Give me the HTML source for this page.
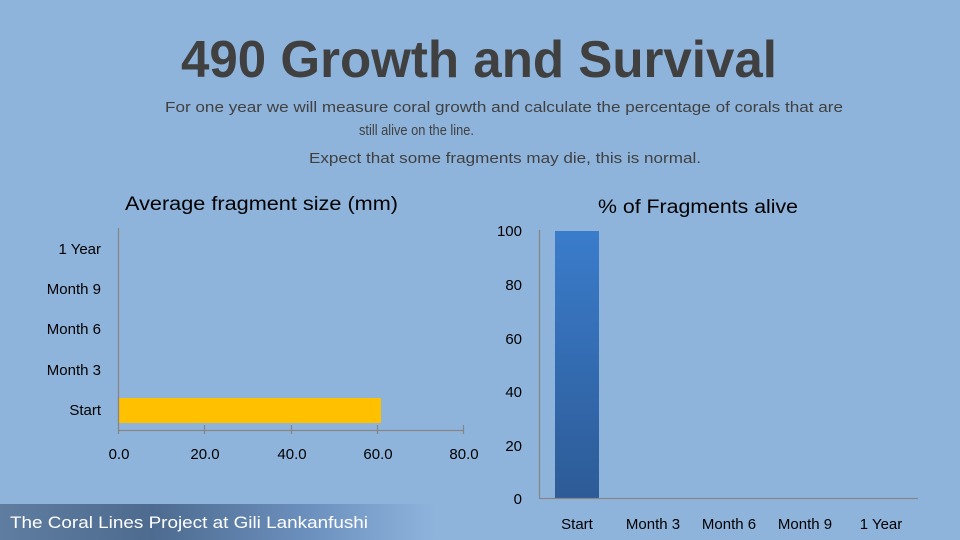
<!DOCTYPE html>
<html><head><meta charset="utf-8"><style>
html,body{margin:0;padding:0;width:960px;height:540px;overflow:hidden;background:#8fb4dc}
svg{display:block}
text{font-family:"Liberation Sans",sans-serif}
</style></head><body>
<svg width="960" height="540" viewBox="0 0 960 540" xmlns="http://www.w3.org/2000/svg">
<defs>
<linearGradient id="bar" x1="0" y1="0" x2="0" y2="1"><stop offset="0" stop-color="#3a7ccb"/><stop offset="1" stop-color="#2d5b97"/></linearGradient>
<linearGradient id="foot" x1="0" y1="0" x2="1" y2="0"><stop offset="0" stop-color="#5f7da0"/><stop offset="0.35" stop-color="#4d6b8f"/><stop offset="0.7" stop-color="#6b8fbd"/><stop offset="1" stop-color="#8fb4dc"/></linearGradient>
</defs>
<rect width="960" height="540" fill="#8fb4dc"/>
<text x="181" y="77" font-size="52" font-weight="bold" fill="#404040" textLength="596" lengthAdjust="spacingAndGlyphs">490 Growth and Survival</text>
<g fill="#404040" font-size="15">
<text x="165" y="112" textLength="678" lengthAdjust="spacingAndGlyphs">For one year we will measure coral growth and calculate the percentage of corals that are</text>
<text x="359" y="135" textLength="115" lengthAdjust="spacingAndGlyphs">still alive on the line.</text>
<text x="309" y="163" textLength="392" lengthAdjust="spacingAndGlyphs">Expect that some fragments may die, this is normal.</text>
</g>
<text x="125" y="210" font-size="19" fill="#000" textLength="273" lengthAdjust="spacingAndGlyphs">Average fragment size (mm)</text>
<text x="598" y="213" font-size="19" fill="#000" textLength="200" lengthAdjust="spacingAndGlyphs">% of Fragments alive</text>
<!-- left chart -->
<rect x="119" y="398" width="262" height="25" fill="#ffc000"/>
<g stroke="#868686" stroke-width="1.3">
<line x1="118.5" y1="228" x2="118.5" y2="434"/>
<line x1="118" y1="430.5" x2="463" y2="430.5"/>
<line x1="204.5" y1="425" x2="204.5" y2="434"/>
<line x1="291.5" y1="425" x2="291.5" y2="434"/>
<line x1="377.5" y1="425" x2="377.5" y2="434"/>
<line x1="463.5" y1="425" x2="463.5" y2="434"/>
</g>
<g font-size="15" fill="#000" text-anchor="end">
<text x="101" y="415">Start</text>
<text x="101" y="375">Month 3</text>
<text x="101" y="334">Month 6</text>
<text x="101" y="294">Month 9</text>
<text x="101" y="254">1 Year</text>
</g>
<g font-size="15" fill="#000" text-anchor="middle">
<text x="119" y="459">0.0</text>
<text x="205" y="459">20.0</text>
<text x="292" y="459">40.0</text>
<text x="378" y="459">60.0</text>
<text x="464" y="459">80.0</text>
</g>
<!-- right chart -->
<rect x="555" y="231" width="44" height="267" fill="url(#bar)"/>
<g stroke="#868686" stroke-width="1.3">
<line x1="539.5" y1="230" x2="539.5" y2="498"/>
<line x1="539" y1="498.5" x2="918" y2="498.5"/>
</g>
<g font-size="15" fill="#000" text-anchor="end">
<text x="522" y="236">100</text>
<text x="522" y="290">80</text>
<text x="522" y="344">60</text>
<text x="522" y="397">40</text>
<text x="522" y="451">20</text>
<text x="522" y="504">0</text>
</g>
<g font-size="15" fill="#000" text-anchor="middle">
<text x="577" y="529">Start</text>
<text x="653" y="529">Month 3</text>
<text x="729" y="529">Month 6</text>
<text x="805" y="529">Month 9</text>
<text x="881" y="529">1 Year</text>
</g>
<!-- footer -->
<rect x="0" y="504" width="436" height="36" fill="url(#foot)"/>
<text x="10" y="528" font-size="17" fill="#ffffff" textLength="358" lengthAdjust="spacingAndGlyphs">The Coral Lines Project at Gili Lankanfushi</text>
</svg>
</body></html>
